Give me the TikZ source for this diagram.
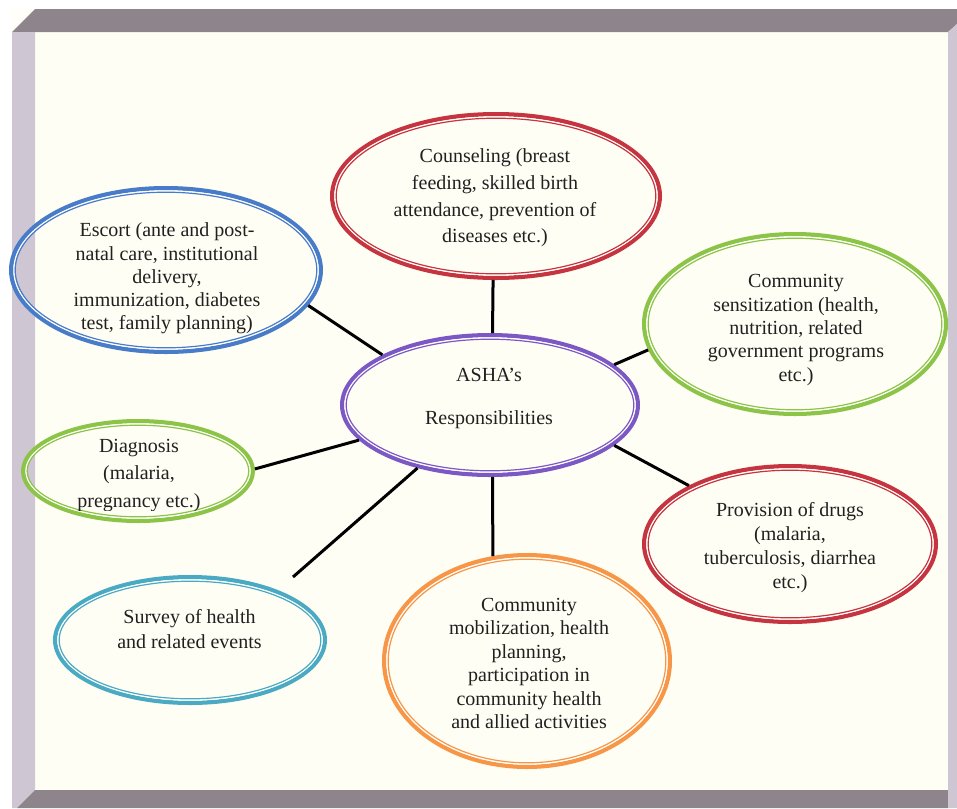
\documentclass[tikz,border=0pt]{standalone}
\usepackage{fontspec}
\setmainfont{Liberation Serif}
\usetikzlibrary{shapes.geometric}
\definecolor{bubred}{RGB}{198,52,64}
\definecolor{bubblue}{RGB}{72,124,200}
\definecolor{bubgreen}{RGB}{140,196,72}
\definecolor{bubpurple}{RGB}{124,88,196}
\definecolor{bubcyan}{RGB}{74,170,196}
\definecolor{buborange}{RGB}{247,150,70}
\definecolor{textc}{RGB}{35,31,32}
\definecolor{bardark}{RGB}{141,133,139}
\definecolor{barlight}{RGB}{206,198,210}
\definecolor{cream}{RGB}{255,254,244}
\tikzset{
  conn/.style={line width=2.25pt, black},
  txt/.style={align=center, inner sep=0pt, text=textc},
}
\newcommand\ashabubble[6]{%
  \pgfmathsetmacro\bubW{1.5*#4-3.2}%
  \pgfmathsetmacro\bubH{1.5*#5-3.2}%
  \pgfmathsetmacro\bubAx{0.75*#4-3.7}%
  \pgfmathsetmacro\bubAy{0.75*#5-3.7}%
  \pgfmathsetmacro\bubBx{0.75*#4-4.65}%
  \pgfmathsetmacro\bubBy{0.75*#5-4.65}%
  \node[ellipse, draw=#6, line width=3.2pt, inner sep=0pt,
        minimum width=\bubW pt, minimum height=\bubH pt] (#1) at (#2,#3) {};
  \draw[white, line width=1pt] (#1.center) ellipse (\bubAx pt and \bubAy pt);
  \draw[#6, line width=0.9pt] (#1.center) ellipse (\bubBx pt and \bubBy pt);
}
\begin{document}
\begin{tikzpicture}[x=0.75pt, y=-0.75pt]
\useasboundingbox (0,0) rectangle (957,808);
\fill[white] (0,0) rectangle (957,808);
% frame
\fill[cream] (35,32) rectangle (948,790);
\fill[cream!60!white] (12,9) -- (35,9) -- (12,32) -- cycle;
\fill[bardark] (35,9) -- (957,9) -- (957,24) -- (948,32) -- (12,32) -- cycle;
\fill[barlight] (12,32) -- (35,32) -- (35,790) -- (17,808) -- (12,808) -- cycle;
\fill[bardark] (35,790) -- (948,790) -- (948,808) -- (17,808) -- cycle;
\fill[barlight] (948,32) -- (957,24) -- (957,808) -- (948,808) -- cycle;
% bubbles
\ashabubble{C}{496}{196}{166}{84}{bubred}
\ashabubble{A}{490}{405}{150}{72}{bubpurple}
\ashabubble{E}{166}{270}{157}{84}{bubblue}
\ashabubble{S}{795}{324}{153}{92}{bubgreen}
\ashabubble{D}{138}{471}{117}{52}{bubgreen}
\ashabubble{P}{790}{544}{148}{80}{bubred}
\ashabubble{V}{190}{640}{137}{65}{bubcyan}
\ashabubble{M}{527}{661}{145}{108}{buborange}
% connectors
\coordinate (Vend) at (293,577);
\draw[conn] (C.-92.7) -- (A.88.4);
\draw[conn] (A.-88.4) -- (M.108.5);
\draw[conn] (E.-14) -- (A.155);
\draw[conn] (S.190) -- (A.18.9);
\draw[conn] (D.1.9) -- (A.195.5);
\draw[conn] (P.150.4) -- (A.-18.3);
\draw[conn] (A.221.6) -- (Vend);
% texts
\node[txt, font=\fontsize{15}{20}\selectfont] (Ct) at (495,198)
  {Counseling (breast\\feeding, skilled birth\\attendance, prevention of\\diseases etc.)};
\node[txt, font=\fontsize{15}{32}\selectfont] (At) at (489,398.5)
  {ASHA’s\\Responsibilities};
\node[txt, font=\fontsize{15}{17.4}\selectfont] (Et) at (167,278.5)
  {Escort (ante and post-\\natal care, institutional\\delivery,\\immunization, diabetes\\test, family planning)};
\node[txt, font=\fontsize{15}{17.6}\selectfont] (St) at (796,330)
  {Community\\sensitization (health,\\nutrition, related\\government programs\\etc.)};
\begin{scope}
\clip (0,0) rectangle (957,510);
\node[txt, font=\fontsize{15}{20.6}\selectfont] (Dt) at (139,475.5)
  {Diagnosis\\(malaria,\\pregnancy etc.)};
\end{scope}
\node[txt, font=\fontsize{15}{17.8}\selectfont] (Pt) at (790,547.5)
  {Provision of drugs\\(malaria,\\tuberculosis, diarrhea\\etc.)};
\node[txt, font=\fontsize{15}{18.75}\selectfont] (Vt) at (189.5,629.5)
  {Survey of health\\and related events};
\node[txt, font=\fontsize{15}{17.6}\selectfont] (Mt) at (529,663.5)
  {Community\\mobilization, health\\planning,\\participation in\\community health\\and allied activities};
\end{tikzpicture}
\end{document}
